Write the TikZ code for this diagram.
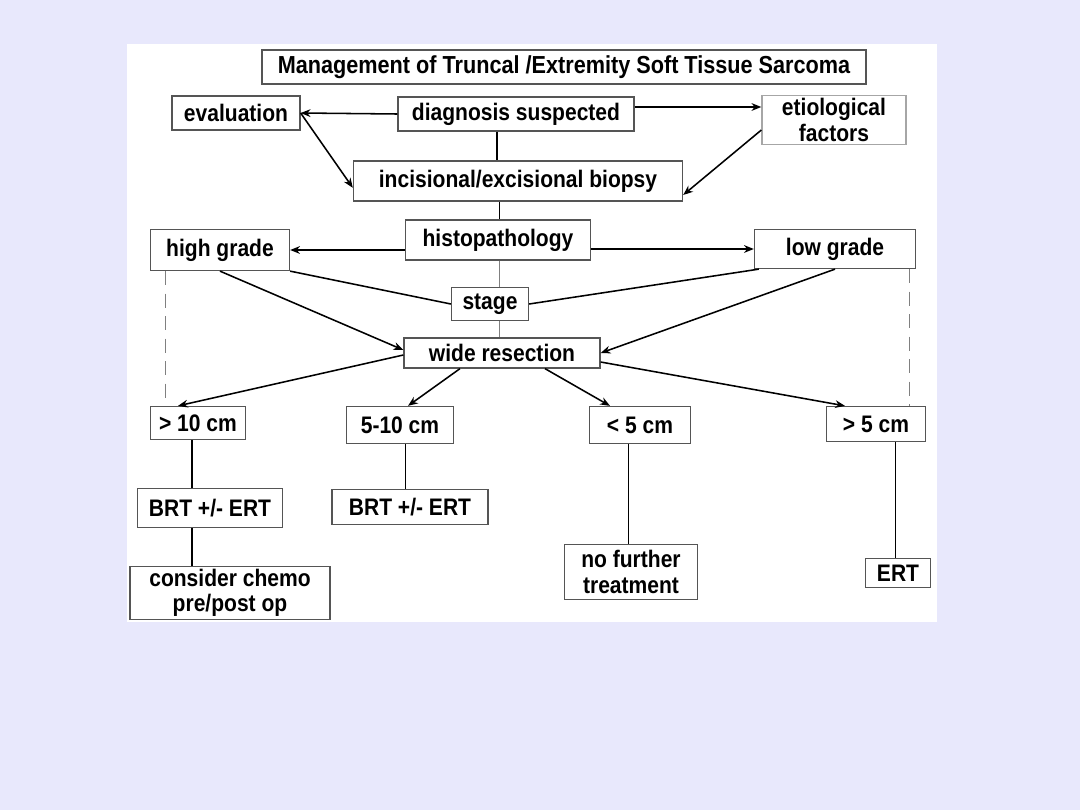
\documentclass[tikz,border=0pt]{standalone}
\usepackage{fontspec}
\setmainfont{Liberation Sans}[FakeStretch=0.88]
\usepackage{xcolor}
\usetikzlibrary{arrows.meta,positioning}
\definecolor{slidebg}{RGB}{232,232,252}
\definecolor{boxline}{RGB}{85,85,85}

\begin{document}
\begin{tikzpicture}[
    x=0.025cm, y=-0.025cm,
    box/.style={rectangle, draw=boxline, line width=0.9pt, fill=white, inner sep=0pt, align=center, font=\fontsize{17pt}{18pt}\selectfont\bfseries},
    arrow/.style={-{Stealth[length=7pt, width=5.5pt]}, line width=1.1pt},
    link/.style={line width=1.1pt},
    thinlink/.style={line width=0.5pt, draw=gray},
    guide/.style={line width=0.5pt, draw=gray, dashed, dash pattern=on 10pt off 6pt}
]

% Slide background and white panel
\fill[slidebg] (0,0) rectangle (1080,810);
\fill[white] (127,44) rectangle (937,622);
\useasboundingbox (0,0) rectangle (1080,810);

% Title
\node[box, line width=1.6pt, minimum width=15.1cm, minimum height=0.85cm, font=\fontsize{17.5pt}{18pt}\selectfont\bfseries] (title) at (564,67) {Management of Truncal /Extremity Soft Tissue Sarcoma};

% First row
\node[box, minimum width=3.2cm, minimum height=0.85cm] (eval) at (236,113) {evaluation};
\node[box, minimum width=5.9cm, minimum height=0.85cm] (diag) at (516,114) {diagnosis suspected};
\node[box, draw=gray!70, minimum width=3.6cm, minimum height=1.225cm] (etio) at (834,120) {etiological\\factors};

% Biopsy
\node[box, minimum width=8.225cm, minimum height=1cm] (biopsy) at (518,181) {incisional/excisional biopsy};

% Grading
\node[box, minimum width=4.625cm, minimum height=1cm] (histo) at (498,240) {histopathology};
\node[box, minimum width=3.475cm, minimum height=1.025cm] (high) at (220,250) {high grade};
\node[box, minimum width=4.025cm, minimum height=0.975cm] (low) at (835,249) {low grade};
\node[box, minimum width=4.9cm, minimum height=0.75cm] (wide) at (502,353) {wide resection};

% Histopathology line behind stage
\draw[thinlink] ([xshift=0.04cm]histo.south) -- ([xshift=0.04cm]histo.south |- wide.north);

\node[box, minimum width=1.925cm, minimum height=0.825cm] (stage) at (490,304) {stage};

% Size groups
\node[box, minimum width=2.375cm, minimum height=0.825cm] (gtten) at (198,423) {> 10 cm};
\node[box, minimum width=2.675cm, minimum height=0.925cm] (fiveten) at (400,425) {5-10 cm};
\node[box, minimum width=2.525cm, minimum height=0.925cm] (ltfive) at (640,425) {< 5 cm};
\node[box, minimum width=2.475cm, minimum height=0.875cm] (gtfive) at (876,424) {> 5 cm};

% Treatments
\node[box, minimum width=3.625cm, minimum height=0.975cm] (brtA) at (210,508) {BRT +/- ERT};
\node[box, minimum width=3.9cm, minimum height=0.875cm] (brtB) at (410,507) {BRT +/- ERT};
\node[box, minimum width=3.325cm, minimum height=1.375cm] (nofurther) at (631,572) {no further\\treatment};
\node[box, minimum width=1.625cm, minimum height=0.725cm] (ert) at (898,573) {ERT};
\node[box, minimum width=5cm, minimum height=1.325cm] (chemo) at (230,593) {consider chemo\\pre/post op};

% Arrows top part
\draw[arrow] (diag.west) -- (eval.east);
\draw[arrow] ([yshift=0.175cm]diag.east) -- ([yshift=0.175cm]diag.east -| etio.west);
\draw[arrow] (eval.east) -- ([yshift=-0.17cm]biopsy.west);
\draw[arrow] ([yshift=-0.25cm]etio.west) -- ([yshift=-0.35cm]biopsy.east);
\draw[link] ([xshift=-0.475cm]diag.south) -- ([xshift=-0.475cm]diag.south |- biopsy.north);
\draw[link] ([xshift=-0.46cm]biopsy.south) -- ([xshift=-0.46cm]biopsy.south |- histo.north);

% Grades
\draw[arrow] (histo.west |- high.east) -- (high.east);
\draw[arrow] (histo.east |- low.west) -- (low.west);
\draw[link] (high.south east) -- (stage.west);
\draw[link] ([xshift=0.125cm]low.south west) -- (stage.east);
\draw[arrow] (high.south) -- ([yshift=0.075cm]wide.west);
\draw[arrow] (low.south) -- (wide.east);

% Dashed guides
\draw[guide] ([xshift=0.375cm]high.south west) -- ([xshift=0.375cm]high.south west |- gtten.north);
\draw[guide] ([xshift=-0.175cm]low.south east) -- ([xshift=-0.175cm]low.south east |- gtfive.north);

% Resection to sizes
\draw[arrow] ([yshift=-0.05cm]wide.west) -- ([xshift=-0.5cm]gtten.north);
\draw[arrow] ([xshift=-1.05cm]wide.south) -- ([xshift=0.2cm]fiveten.north);
\draw[arrow] ([xshift=1.075cm]wide.south) -- ([xshift=-0.75cm]ltfive.north);
\draw[arrow] ([yshift=-0.225cm]wide.east) -- ([xshift=-0.775cm]gtfive.north);

% Sizes to treatments
\draw[link] ([xshift=-0.15cm]gtten.south) -- ([xshift=-0.15cm]gtten.south |- brtA.north);
\draw[link] ([xshift=-0.45cm]brtA.south) -- ([xshift=-0.45cm]brtA.south |- chemo.north);
\draw[link] ([xshift=0.14cm]fiveten.south) -- ([xshift=0.14cm]fiveten.south |- brtB.north);
\draw[link] ([xshift=-0.29cm]ltfive.south) -- ([xshift=-0.29cm]ltfive.south |- nofurther.north);
\draw[link] ([xshift=0.49cm]gtfive.south) -- ([xshift=0.49cm]gtfive.south |- ert.north);

\end{tikzpicture}
\end{document}
